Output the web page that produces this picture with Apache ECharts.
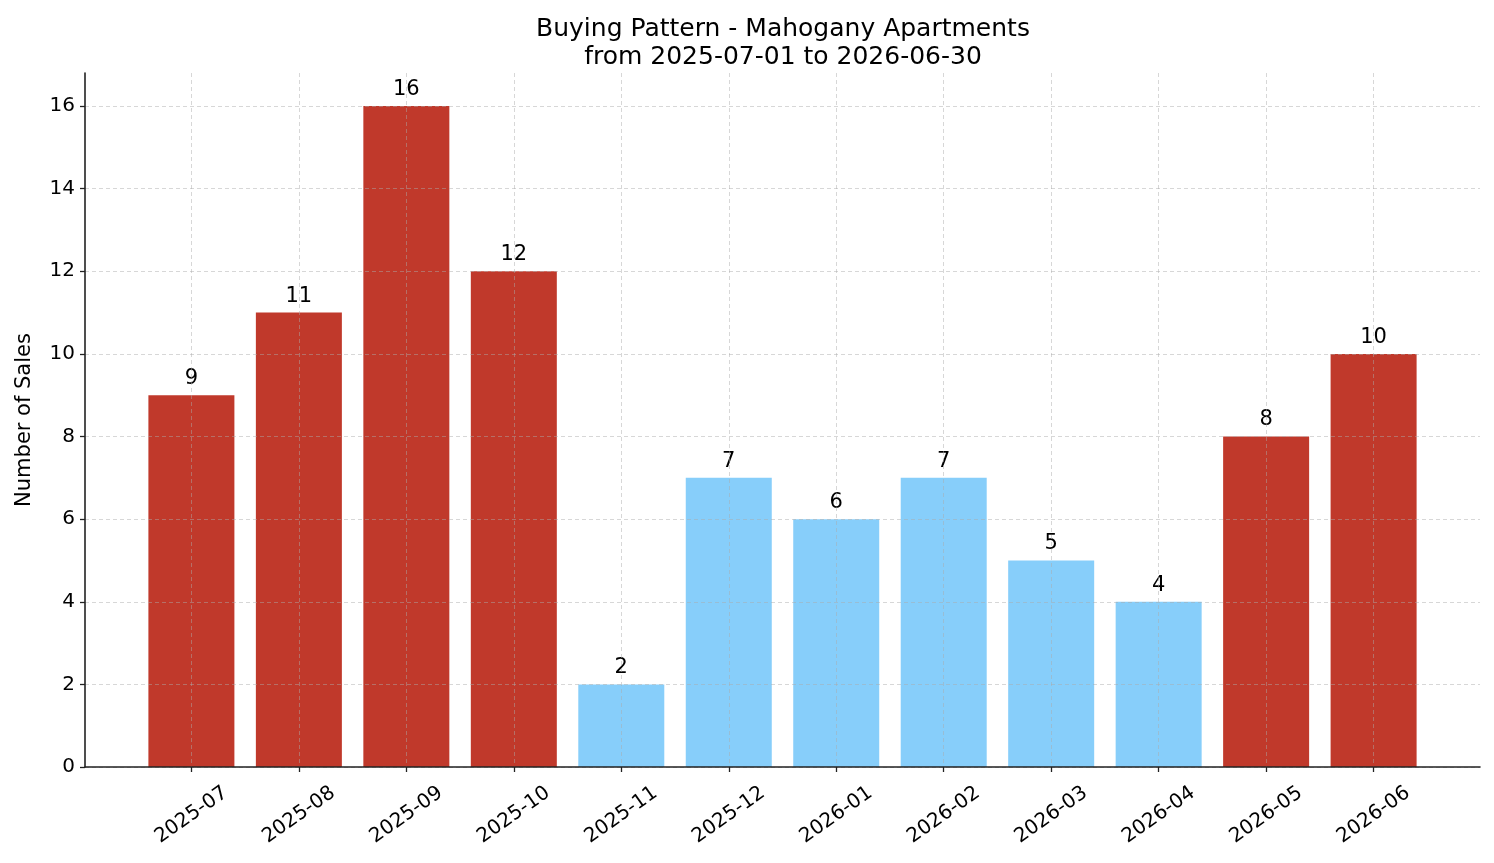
<!DOCTYPE html>
<html>
<head>
<meta charset="utf-8">
<title>Buying Pattern - Mahogany Apartments</title>
<script src="https://cdn.jsdelivr.net/npm/echarts@6/dist/echarts.min.js"></script>
<style>
  html, body { margin: 0; padding: 0; background: #fff; }
  #chart { width: 1494px; height: 863px; }
</style>
</head>
<body>
<div id="chart"></div>
<script>
// months shown on the x axis
const months = ["2025-07", "2025-08", "2025-09", "2025-10", "2025-11", "2025-12",
  "2026-01", "2026-02", "2026-03", "2026-04", "2026-05", "2026-06"];
// number of sales per month
const sales = [9, 11, 16, 12, 2, 7, 6, 7, 5, 4, 8, 10];
// y axis ticks
const yTicks = [0, 2, 4, 6, 8, 10, 12, 14, 16];

const monthIdx = months.map((m, i) => i);
const gridLine = { show: true, lineStyle: { color: "rgba(170,170,170,0.6)", width: 0.8, type: [4, 3] } };
const axisLine = { show: true, onZero: false, lineStyle: { color: "#222", width: 1.6 } };

const myChart = echarts.init(document.getElementById("chart"));

const option = {
  animation: false,
  textStyle: { fontFamily: "DejaVu Sans" },
  title: {
    text: "Buying Pattern - Mahogany Apartments\nfrom 2025-07-01 to 2026-06-30",
    left: 778,
    top: 10,
    textAlign: "center",
    textStyle: { fontSize: 25, fontWeight: "normal", color: "#000", lineHeight: 28, fontFamily: "DejaVu Sans" }
  },
  grid: { left: 85, right: 14, top: 73, bottom: 96, containLabel: false, outerBoundsMode: "none" },
  xAxis: {
    type: "value",
    min: -0.99,
    max: 11.99,
    z: 3,
    axisLine: axisLine,
    axisTick: { show: true, length: 5, customValues: monthIdx, lineStyle: { color: "#222", width: 1.3 } },
    axisLabel: {
      customValues: monthIdx,
      formatter: (v) => months[Math.round(v)],
      rotate: 35,
      align: "center",
      verticalAlign: "middle",
      margin: 48,
      fontSize: 20,
      color: "#000"
    },
    splitLine: gridLine
  },
  yAxis: {
    type: "value",
    min: 0,
    max: 16.8,
    z: 3,
    name: "Number of Sales",
    nameLocation: "middle",
    nameGap: 50,
    nameRotate: 90,
    nameTextStyle: { fontSize: 21, color: "#000" },
    axisLine: axisLine,
    axisTick: { show: true, length: 5, customValues: yTicks, lineStyle: { color: "#222", width: 1.3 } },
    axisLabel: { customValues: yTicks, fontSize: 20, color: "#000", margin: 10 },
    splitLine: gridLine
  },
  series: [{
    type: "bar",
    barWidth: 86,
    data: sales.map((v, i) => [i, v]),
    itemStyle: {
      color: (p) => (p.value[1] >= 8 ? "#c0392b" : "#87cefa")
    },
    label: {
      show: true,
      position: "top",
      distance: 6,
      fontSize: 21,
      color: "#000",
      formatter: (p) => p.value[1]
    }
  }]
};

myChart.setOption(option);
</script>
</body>
</html>
